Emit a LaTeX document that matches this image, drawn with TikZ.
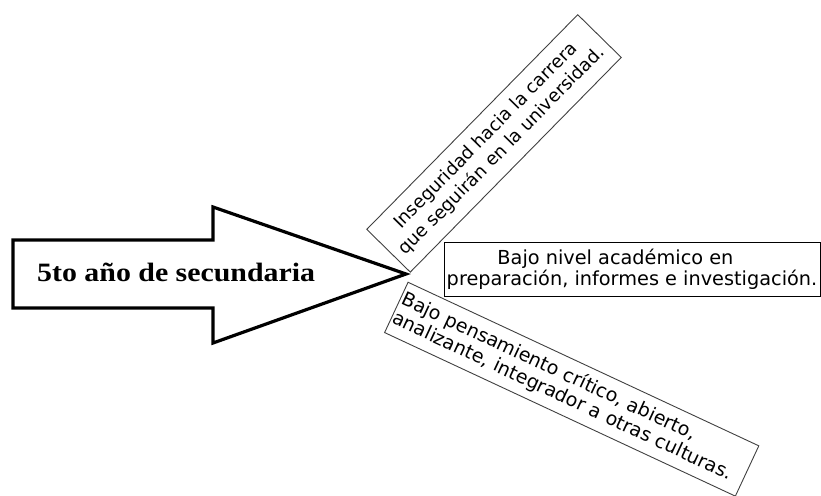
\documentclass[tikz,border=0pt]{standalone}
\usepackage{fontspec}
\setmainfont{DejaVu Sans}
\newfontfamily\tnrfont{Liberation Serif}
\begin{document}
\begin{tikzpicture}[x=1pt,y=1pt,
  boxstyle/.style={draw=black!75, line width=0.9pt, inner sep=2pt},
  arrowshape/.style={draw=black, line width=3.2pt, line join=miter}]
\useasboundingbox (0,0) rectangle (821,-495);
% big arrow
\draw[arrowshape] (13,-240) -- (213,-240) -- (213,-207) -- (406,-274) -- (213,-343) -- (213,-308) -- (13,-308) -- cycle;
\node[anchor=base west, inner sep=0pt] (lbl) at (37,-281)
  {\scalebox{1.127}[1]{\tnrfont\bfseries\fontsize{26.5}{30}\selectfont 5to año de secundaria}};
% top rotated box
\node[boxstyle, rotate=45.5, minimum width=301pt, minimum height=61pt, align=center,
  font=\fontsize{18}{22}\selectfont] (top) at (494,-143.4)
  {Inseguridad hacia la carrera\\que seguirán en la universidad.};
% middle box
\node[draw=black, line width=1pt, inner sep=2pt, minimum width=376pt, minimum height=54pt, align=left,
  font=\fontsize{19.3}{21}\selectfont] (mid) at (632,-269)
  {\hspace*{50.7pt}Bajo nivel académico en\\preparación, informes e investigación.};
% bottom rotated box
\node[boxstyle, rotate=-25, text width=383pt, minimum height=55.5pt, align=left,
  font=\fontsize{19}{21}\selectfont] (bot) at (571.7,-389.2)
  {Bajo pensamiento crítico, abierto,\\analizante, integrador a otras culturas.};
\end{tikzpicture}
\end{document}
